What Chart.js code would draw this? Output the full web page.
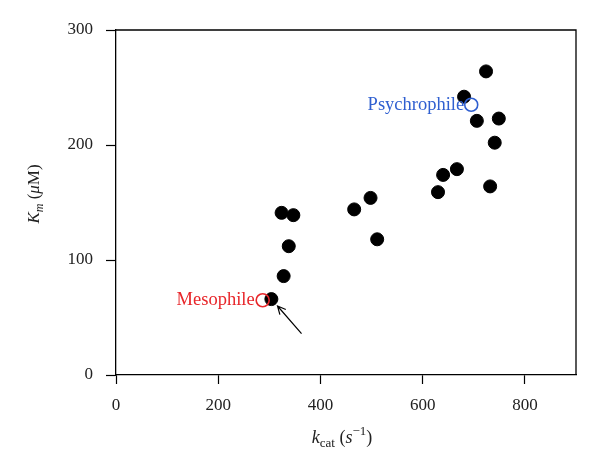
<!DOCTYPE html>
<html>
<head>
<meta charset="utf-8">
<script src="https://cdn.jsdelivr.net/npm/chart.js@4"></script>
<style>
  body { margin: 0; background: #fff; }
  #wrap { width: 600px; height: 471px; }
</style>
</head>
<body>
<div id="wrap"><canvas id="kinetics-chart"></canvas></div>
<script>
// kcat (s^-1) and Km (uM) of the enzyme variants
const kcatValues = [304, 328, 338, 324, 347, 466, 498, 511, 724, 681, 706, 749, 741, 667, 640, 630, 732];
const kmValues = [66, 86, 112, 141, 139, 144, 154, 118, 264, 242, 221, 223, 202, 179, 174, 159, 164];

const mesophile = { kcat: 287, km: 65 };
const psychrophile = { kcat: 695, km: 235 };

// arrow pointing at the mesophile point (tail -> head, data units)
const arrowTail = { x: 363, y: 36 };
const arrowHead = { x: 316, y: 60 };

const xTicks = [0, 200, 400, 600, 800];
const yTicks = [0, 100, 200, 300];

const serif = "'Liberation Serif', 'DejaVu Serif', serif";

const kineticsChart = document.getElementById("kinetics-chart");

function drawPieces(ctx, pieces, cx, cy) {
  let total = 0;
  pieces.forEach((p) => { ctx.font = p.f; p.w = ctx.measureText(p.t).width; total += p.w; });
  let px = cx - total / 2;
  pieces.forEach((p) => { ctx.font = p.f; ctx.fillText(p.t, px, cy + p.dy); px += p.w; });
}

const annotations = {
  id: "annotations",
  afterDraw(chart) {
    const { ctx, chartArea, scales } = chart;
    const x = scales.x;
    const y = scales.y;
    ctx.save();

    // top and right frame
    ctx.strokeStyle = "#000";
    ctx.lineWidth = 1.3;
    ctx.beginPath();
    ctx.moveTo(chartArea.left, chartArea.top);
    ctx.lineTo(chartArea.right, chartArea.top);
    ctx.lineTo(chartArea.right, chartArea.bottom);
    ctx.stroke();

    // arrow
    const x1 = x.getPixelForValue(arrowTail.x);
    const y1 = y.getPixelForValue(arrowTail.y);
    const x2 = x.getPixelForValue(arrowHead.x);
    const y2 = y.getPixelForValue(arrowHead.y);
    const ang = Math.atan2(y2 - y1, x2 - x1);
    ctx.lineWidth = 1.2;
    ctx.beginPath();
    ctx.moveTo(x1, y1);
    ctx.lineTo(x2, y2);
    ctx.moveTo(x2 - 9 * Math.cos(ang - 0.45), y2 - 9 * Math.sin(ang - 0.45));
    ctx.lineTo(x2, y2);
    ctx.lineTo(x2 - 9 * Math.cos(ang + 0.45), y2 - 9 * Math.sin(ang + 0.45));
    ctx.stroke();

    // point labels
    ctx.font = "18.5px " + serif;
    ctx.textAlign = "right";
    ctx.textBaseline = "middle";
    ctx.fillStyle = "#e8262a";
    ctx.fillText("Mesophile", x.getPixelForValue(mesophile.kcat) - 8, y.getPixelForValue(mesophile.km));
    ctx.fillStyle = "#2f5fd0";
    ctx.fillText("Psychrophile", x.getPixelForValue(psychrophile.kcat) - 7, y.getPixelForValue(psychrophile.km));

    // axis titles
    ctx.fillStyle = "#222";
    ctx.textAlign = "left";
    ctx.textBaseline = "alphabetic";
    drawPieces(ctx, [
      { t: "k", f: "italic 18px " + serif, dy: 0 },
      { t: "cat", f: "13px " + serif, dy: 4 },
      { t: " (", f: "18px " + serif, dy: 0 },
      { t: "s", f: "italic 18px " + serif, dy: 0 },
      { t: "\u22121", f: "13px " + serif, dy: -8 },
      { t: ")", f: "18px " + serif, dy: 0 },
    ], 342, 443);

    ctx.translate(39, 194);
    ctx.rotate(-Math.PI / 2);
    drawPieces(ctx, [
      { t: "K", f: "italic 17px " + serif, dy: 0 },
      { t: "m", f: "italic 12px " + serif, dy: 4 },
      { t: " (", f: "17px " + serif, dy: 0 },
      { t: "\u03bc", f: "italic 17px " + serif, dy: 0 },
      { t: "M)", f: "17px " + serif, dy: 0 },
    ], 0, 0);

    ctx.restore();
  },
};

new Chart(kineticsChart, {
  type: "scatter",
  data: {
    datasets: [
      {
        label: "Variants",
        data: kcatValues.map((v, i) => ({ x: v, y: kmValues[i] })),
        backgroundColor: "#000",
        borderColor: "#000",
        pointRadius: 6.5,
        pointHoverRadius: 6.5,
        order: 2,
      },
      {
        label: "Mesophile",
        data: [{ x: mesophile.kcat, y: mesophile.km }],
        backgroundColor: "rgba(0,0,0,0)",
        borderColor: "#e8262a",
        borderWidth: 1.6,
        pointRadius: 6.5,
        order: 1,
      },
      {
        label: "Psychrophile",
        data: [{ x: psychrophile.kcat, y: psychrophile.km }],
        backgroundColor: "rgba(0,0,0,0)",
        borderColor: "#2f5fd0",
        borderWidth: 1.6,
        pointRadius: 6.5,
        order: 1,
      },
    ],
  },
  options: {
    responsive: true,
    maintainAspectRatio: false,
    animation: false,
    layout: { padding: { top: 30, right: 24, left: 0, bottom: 0 } },
    plugins: {
      legend: { display: false },
      tooltip: { enabled: false },
    },
    scales: {
      x: {
        type: "linear",
        min: 0,
        max: 900,
        afterBuildTicks: (s) => { s.ticks = xTicks.map((v) => ({ value: v })); },
        afterFit: (s) => { s.height = 96; },
        grid: { display: true, drawOnChartArea: false, drawTicks: true, tickLength: 9, color: "#000", tickWidth: 1.2 },
        border: { display: true, color: "#000", width: 1.3 },
        ticks: { color: "#222", font: { family: serif, size: 17 }, padding: 11, maxRotation: 0 },
      },
      y: {
        type: "linear",
        min: 0,
        max: 300,
        afterBuildTicks: (s) => { s.ticks = yTicks.map((v) => ({ value: v })); },
        afterFit: (s) => { s.width = 116; },
        grid: { display: true, drawOnChartArea: false, drawTicks: true, tickLength: 10, color: "#000", tickWidth: 1.2 },
        border: { display: true, color: "#000", width: 1.3 },
        ticks: { color: "#222", font: { family: serif, size: 17 }, padding: 13 },
      },
    },
  },
  plugins: [annotations],
});
</script>
</body>
</html>
